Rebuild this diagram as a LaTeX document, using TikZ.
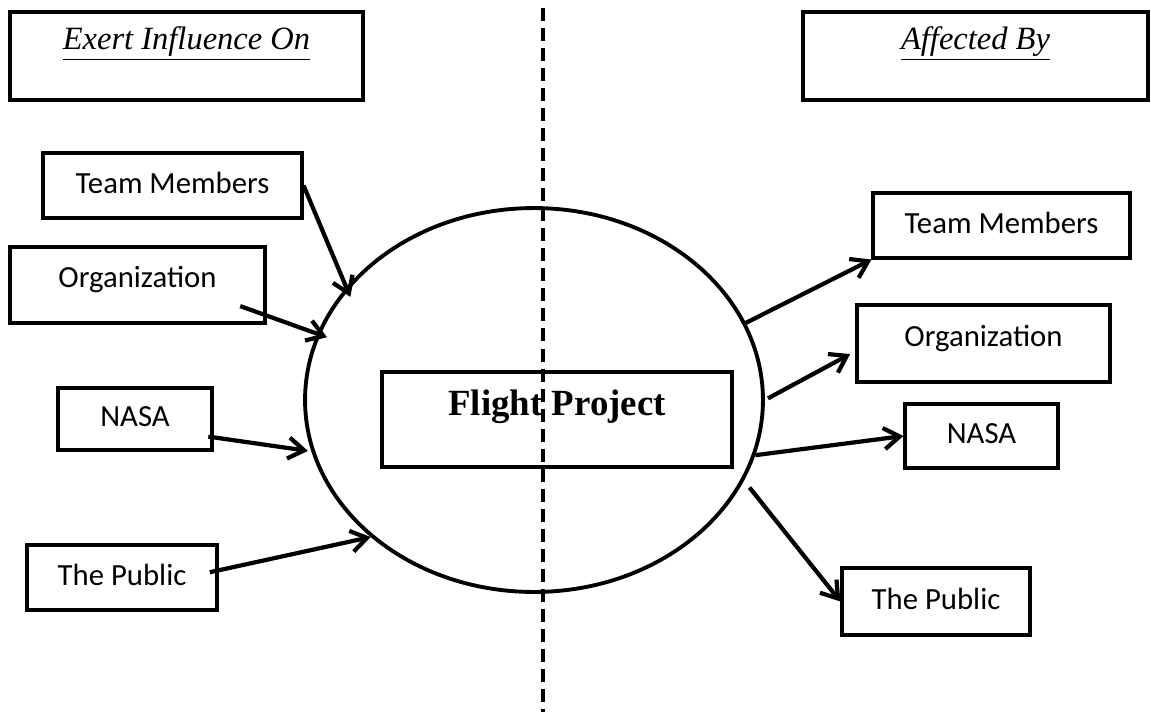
\documentclass[tikz,border=0pt]{standalone}
\usepackage{fontspec}
\setmainfont{Liberation Serif}
\newfontfamily\labelfont{Carlito}
\usetikzlibrary{arrows.meta,shapes.geometric}

\begin{document}
\begin{tikzpicture}[x=0.02cm, y=-0.02cm,
        party/.style={draw, line width=1.8pt, inner sep=0pt, text height=13pt, text depth=4pt,
                font=\labelfont\fontsize{17.5}{20}\selectfont},
        heading/.style={draw, line width=1.8pt, inner sep=0pt, minimum height=1.76cm,
                text height=14pt, text depth=21pt, font=\itshape\fontsize{18.5}{22}\selectfont},
        infl/.style={line width=2.4pt, -{Straight Barb[length=9pt,width=12pt]}}]
        \useasboundingbox (0,0) rectangle (1151,714);

        % headings
        \node[heading, minimum width=7.06cm] (hdA) at (186.5, 56) {\underline{Exert Influence On}};
        \node[heading, minimum width=6.9cm] (hdB) at (975.5, 56) {\underline{Affected By}};

        % the project
        \node[ellipse, draw, line width=2.2pt, inner sep=0pt, minimum width=9.16cm, minimum height=7.68cm] (proj) at (534, 400) {};
        \node[draw, line width=1.8pt, inner sep=0pt, minimum width=7cm, minimum height=1.9cm, text height=15pt, text depth=19pt,
                font=\bfseries\fontsize{21}{24}\selectfont] (flight) at (557, 419.5) {Flight Project};

        % left side
        \node[party, minimum width=5.18cm, minimum height=1.3cm] (tmA) at (172.5, 185.5) {Team Members};
        \node[party, minimum width=5.1cm, minimum height=1.52cm, text depth=10pt] (orgA) at (137.5, 285) {Organization};
        \node[party, minimum width=3.08cm, minimum height=1.24cm] (nasaA) at (135, 419) {NASA};
        \node[party, minimum width=3.8cm, minimum height=1.3cm] (pubA) at (122, 577.5) {The Public};

        % right side
        \node[party, minimum width=5.14cm, minimum height=1.3cm] (tmB) at (1001.5, 225.5) {Team Members};
        \node[party, minimum width=5.06cm, minimum height=1.54cm, text depth=10pt] (orgB) at (983.5, 343.5) {Organization};
        \node[party, minimum width=3.06cm, minimum height=1.28cm] (nasaB) at (981.5, 436) {NASA};
        \node[party, minimum width=3.76cm, minimum height=1.34cm] (pubB) at (936, 601.5) {The Public};

        \coordinate (divtop) at (543, 8);
        \coordinate (divbot) at (543, 712);
        \draw[line width=2.4pt, dash pattern=on 7.4pt off 4pt] (divtop) -- (divbot);

        \draw[infl, shorten >=-6pt] (tmA.east) -- (proj.149);
        \draw[infl, shorten >=-6pt] ([xshift=-15pt, yshift=-12pt]orgA.east) -- (proj.163);
        \draw[infl, shorten >=2pt] ([xshift=-3pt, yshift=-10pt]nasaA.east) -- (proj.193);
        \draw[infl] ([xshift=-5pt, yshift=3pt]pubA.east) -- (proj.220);

        \draw[infl] (proj.20) -- (tmB.south west);
        \draw[infl, shorten <=2pt] (proj.0) -- ([xshift=-3pt, yshift=-6pt]orgB.west);
        \draw[infl] (proj.-14) -- (nasaB.west);
        \draw[infl, shorten <=5pt] (proj.-21) -- (pubB.west);
\end{tikzpicture}
\end{document}
